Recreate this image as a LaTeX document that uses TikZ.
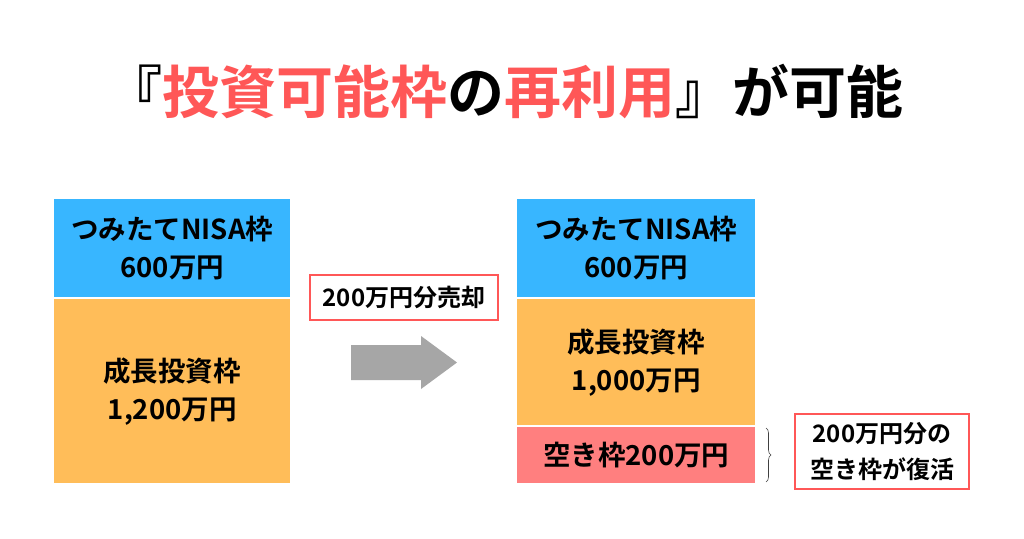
\documentclass[tikz,border=0pt]{standalone}
\usepackage{fontspec}
\setmainfont{Noto Sans CJK JP}[BoldFont={Noto Sans CJK JP Bold}]
\usetikzlibrary{decorations.pathreplacing}
\definecolor{nblue}{HTML}{38B6FF}
\definecolor{norange}{HTML}{FFBD59}
\definecolor{npink}{HTML}{FF7F7F}
\definecolor{nred}{HTML}{FF5757}
\definecolor{ngray}{HTML}{A6A6A6}
\tikzset{
  blk/.style={anchor=north west, inner sep=0pt, align=center, text=black,
    font=\bfseries\fontsize{27.5}{38}\selectfont},
  lbl/.style={draw=nred, line width=2pt, fill=white, inner sep=0pt, align=center,
    font=\bfseries\fontsize{24}{36}\selectfont},
}
\begin{document}
\begin{tikzpicture}[x=1pt,y=-1pt]
\useasboundingbox (0,0) rectangle (1024,538);
\fill[white] (0,0) rectangle (1024,538);
% title
\node[font=\bfseries\fontsize{57}{62}\selectfont, inner sep=0pt] (title) at (504,92)
  {『\textcolor{nred}{投資可能枠}の\textcolor{nred}{再利用}』が可能};
% left
\node[blk, fill=nblue, minimum width=236pt, minimum height=98pt] (lt) at (54,199)
  {つみたてNISA枠\\600万円};
\node[blk, fill=norange, minimum width=236pt, minimum height=184pt] (lg) at (54,299)
  {成長投資枠\\1,200万円};
% right
\node[blk, fill=nblue, minimum width=238pt, minimum height=98pt] (rt) at (517,199)
  {つみたてNISA枠\\600万円};
\node[blk, fill=norange, minimum width=238pt, minimum height=126pt] (rg) at (517,299)
  {成長投資枠\\1,000万円};
\node[blk, fill=npink, minimum width=238pt, minimum height=56pt] (rp) at (517,427)
  {空き枠200万円};
% sale label and arrow
\node[lbl, minimum width=188pt, minimum height=45pt] (sale) at (404,297.5) {200万円分売却};
\fill[ngray] (351,345) -- (421,345) -- (421,336) -- (457,362.5) -- (421,389) -- (421,380) -- (351,380) -- cycle;
% brace
\coordinate (bt) at (766,428);
\coordinate (bb) at (766,482);
\draw[decorate, decoration={brace, amplitude=5pt}, line width=0.6pt, black!75] (bt) -- (bb);
\node[lbl, minimum width=174pt, minimum height=75pt] (free) at (882,451.5)
  {200万円分の\\空き枠が復活};
\end{tikzpicture}
\end{document}
